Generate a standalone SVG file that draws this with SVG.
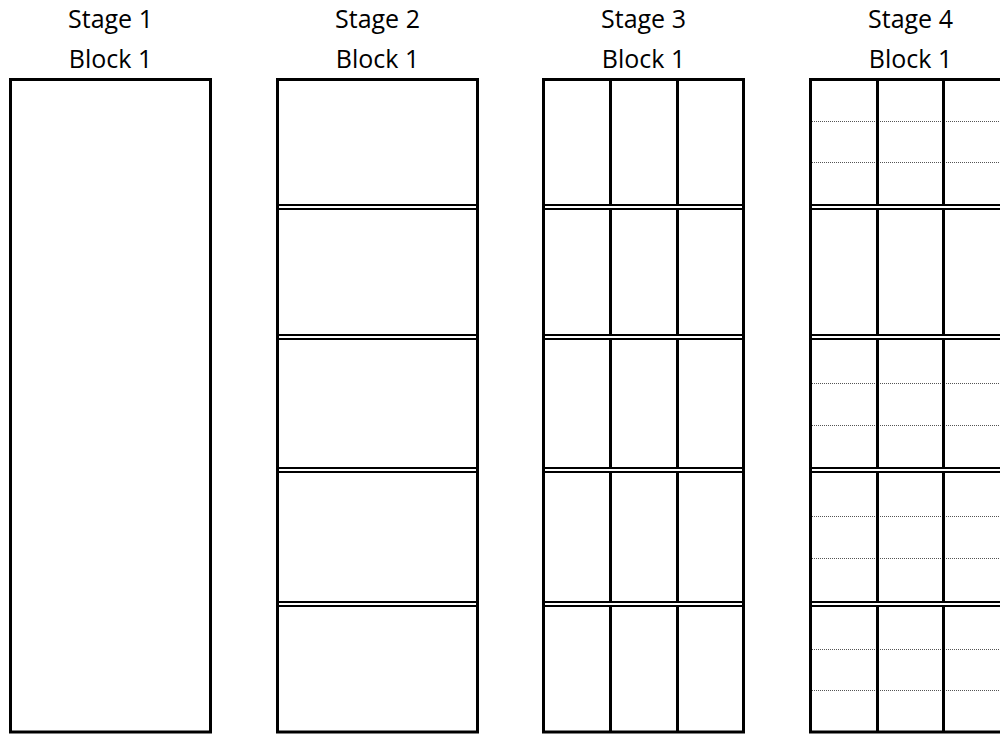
<svg xmlns="http://www.w3.org/2000/svg" width="1000" height="734" viewBox="0 0 1000 734">
<style>
.lbl{font-family:"Open Sans","Liberation Sans",sans-serif;font-size:25px;fill:#000;text-anchor:middle}
.outer{fill:#fff;stroke:#000;stroke-width:3}
.dbl{stroke:#000;stroke-width:2;fill:none}
.vert{stroke:#000;stroke-width:3;fill:none}
.dot{stroke:#555;stroke-width:1;stroke-dasharray:1,1;fill:none}
</style>
<rect x="0" y="0" width="1000" height="734" fill="#fff"/>
<g id="stage1">
<text class="lbl" x="110.5" y="28">Stage 1</text>
<text class="lbl" x="110.5" y="68">Block 1</text>
<rect class="outer" x="10.5" y="79.5" width="200" height="652.5"/>
</g>
<g id="stage2">
<text class="lbl" x="377.5" y="28">Stage 2</text>
<text class="lbl" x="377.5" y="68">Block 1</text>
<rect class="outer" x="277.5" y="79.5" width="200" height="652.5"/>
<g class="dbl">
<line x1="279" y1="205" x2="476" y2="205"/><line x1="279" y1="209" x2="476" y2="209"/>
<line x1="279" y1="335" x2="476" y2="335"/><line x1="279" y1="339" x2="476" y2="339"/>
<line x1="279" y1="468" x2="476" y2="468"/><line x1="279" y1="472" x2="476" y2="472"/>
<line x1="279" y1="602" x2="476" y2="602"/><line x1="279" y1="606" x2="476" y2="606"/>
</g>
</g>
<g id="stage3">
<text class="lbl" x="643.5" y="28">Stage 3</text>
<text class="lbl" x="643.5" y="68">Block 1</text>
<rect class="outer" x="543.5" y="79.5" width="200" height="652.5"/>
<g class="vert">
<line x1="610.5" y1="80" x2="610.5" y2="204"/><line x1="677.5" y1="80" x2="677.5" y2="204"/>
<line x1="610.5" y1="210" x2="610.5" y2="334"/><line x1="677.5" y1="210" x2="677.5" y2="334"/>
<line x1="610.5" y1="340" x2="610.5" y2="467"/><line x1="677.5" y1="340" x2="677.5" y2="467"/>
<line x1="610.5" y1="473" x2="610.5" y2="601"/><line x1="677.5" y1="473" x2="677.5" y2="601"/>
<line x1="610.5" y1="607" x2="610.5" y2="731"/><line x1="677.5" y1="607" x2="677.5" y2="731"/>
</g>
<g class="dbl">
<line x1="545" y1="205" x2="742" y2="205"/><line x1="545" y1="209" x2="742" y2="209"/>
<line x1="545" y1="335" x2="742" y2="335"/><line x1="545" y1="339" x2="742" y2="339"/>
<line x1="545" y1="468" x2="742" y2="468"/><line x1="545" y1="472" x2="742" y2="472"/>
<line x1="545" y1="602" x2="742" y2="602"/><line x1="545" y1="606" x2="742" y2="606"/>
</g>
</g>
<g id="stage4">
<text class="lbl" x="910.5" y="28">Stage 4</text>
<text class="lbl" x="910.5" y="68">Block 1</text>
<rect class="outer" x="810.5" y="79.5" width="200" height="652.5"/>
<g class="dot">
<line x1="812" y1="121.5" x2="1009" y2="121.5"/><line x1="812" y1="162.5" x2="1009" y2="162.5"/>
<line x1="812" y1="383.5" x2="1009" y2="383.5"/><line x1="812" y1="425.5" x2="1009" y2="425.5"/>
<line x1="812" y1="516.5" x2="1009" y2="516.5"/><line x1="812" y1="558.5" x2="1009" y2="558.5"/>
<line x1="812" y1="649.5" x2="1009" y2="649.5"/><line x1="812" y1="690.5" x2="1009" y2="690.5"/>
</g>
<g class="vert">
<line x1="877.5" y1="80" x2="877.5" y2="204"/><line x1="943.5" y1="80" x2="943.5" y2="204"/>
<line x1="877.5" y1="210" x2="877.5" y2="334"/><line x1="943.5" y1="210" x2="943.5" y2="334"/>
<line x1="877.5" y1="340" x2="877.5" y2="467"/><line x1="943.5" y1="340" x2="943.5" y2="467"/>
<line x1="877.5" y1="473" x2="877.5" y2="601"/><line x1="943.5" y1="473" x2="943.5" y2="601"/>
<line x1="877.5" y1="607" x2="877.5" y2="731"/><line x1="943.5" y1="607" x2="943.5" y2="731"/>
</g>
<g class="dbl">
<line x1="812" y1="205" x2="1009" y2="205"/><line x1="812" y1="209" x2="1009" y2="209"/>
<line x1="812" y1="335" x2="1009" y2="335"/><line x1="812" y1="339" x2="1009" y2="339"/>
<line x1="812" y1="468" x2="1009" y2="468"/><line x1="812" y1="472" x2="1009" y2="472"/>
<line x1="812" y1="602" x2="1009" y2="602"/><line x1="812" y1="606" x2="1009" y2="606"/>
</g>
</g>
</svg>
